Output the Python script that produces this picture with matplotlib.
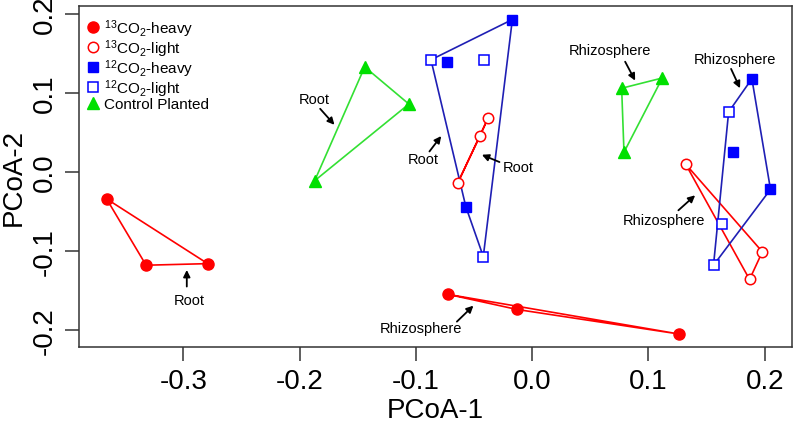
import matplotlib
matplotlib.use("Agg")
import matplotlib.pyplot as plt
from matplotlib.lines import Line2D

plt.rcParams['font.family'] = ['Liberation Sans', 'DejaVu Sans']
plt.rcParams['mathtext.fontset'] = 'custom'
plt.rcParams['mathtext.rm'] = 'Liberation Sans'
plt.rcParams['mathtext.it'] = 'Liberation Sans:italic'
plt.rcParams['mathtext.bf'] = 'Liberation Sans:bold'

# ---------------- data ----------------
# 13CO2-heavy (red filled circles)
c13_heavy_x = [-0.366, -0.332, -0.279, -0.072, -0.013, 0.126]
c13_heavy_y = [-0.034, -0.118, -0.116, -0.155, -0.174, -0.205]
c13_heavy_site = ['Root', 'Root', 'Root', 'Rhizo', 'Rhizo', 'Rhizo']

# 13CO2-light (red open circles)
c13_light_x = [-0.038, -0.045, -0.064, 0.132, 0.198, 0.187]
c13_light_y = [0.068, 0.045, -0.014, 0.010, -0.101, -0.136]
c13_light_site = ['Root', 'Root', 'Root', 'Rhizo', 'Rhizo', 'Rhizo']

# 12CO2-heavy (blue filled squares)
c12_heavy_x = [-0.017, -0.073, -0.057, 0.189, 0.173, 0.205]
c12_heavy_y = [0.193, 0.139, -0.044, 0.118, 0.025, -0.022]
c12_heavy_site = ['Root', 'Root', 'Root', 'Rhizo', 'Rhizo', 'Rhizo']

# 12CO2-light (blue open squares)
c12_light_x = [-0.087, -0.041, -0.042, 0.169, 0.163, 0.156]
c12_light_y = [0.142, 0.142, -0.107, 0.076, -0.066, -0.118]
c12_light_site = ['Root', 'Root', 'Root', 'Rhizo', 'Rhizo', 'Rhizo']

# Control Planted (green triangles)
ctrl_x = [-0.144, -0.187, -0.106, 0.077, 0.112, 0.079]
ctrl_y = [0.133, -0.011, 0.086, 0.106, 0.119, 0.025]
ctrl_site = ['Root', 'Root', 'Root', 'Rhizo', 'Rhizo', 'Rhizo']

legend_labels = [r'$^{13}$CO$_2$-heavy', r'$^{13}$CO$_2$-light',
                 r'$^{12}$CO$_2$-heavy', r'$^{12}$CO$_2$-light',
                 'Control Planted']

# annotations: label, text position, arrow tail, arrow tip
ann_labels = ['Root', 'Root', 'Root', 'Root',
              'Rhizosphere', 'Rhizosphere', 'Rhizosphere', 'Rhizosphere']
ann_text_x = [-0.295, -0.187, -0.0935, -0.0118, 0.067, 0.1745, 0.113, -0.096]
ann_text_y = [-0.162, 0.0926, 0.0159, 0.0063, 0.1548, 0.1431, -0.0611, -0.198]
ann_tail_x = [-0.297, -0.1823, -0.0883, -0.0281, 0.080, 0.1711, 0.1258, -0.0647]
ann_tail_y = [-0.145, 0.080, 0.026, 0.0126, 0.1396, 0.1305, -0.0485, -0.1894]
ann_tip_x = [-0.297, -0.170, -0.0782, -0.0432, 0.0886, 0.1788, 0.1402, -0.0505]
ann_tip_y = [-0.124, 0.0597, 0.0455, 0.0218, 0.1157, 0.106, -0.0295, -0.1692]

RED = '#ff0000'
BLUE = '#0000ff'
BLUE_LINE = '#1f1fb4'
GREEN = '#00e000'
GREEN_LINE = '#33e033'


def hull(pts):
    pts = sorted(set(pts))
    if len(pts) < 3:
        return pts

    def cross(o, a, b):
        return (a[0] - o[0]) * (b[1] - o[1]) - (a[1] - o[1]) * (b[0] - o[0])
    lower, upper = [], []
    for p in pts:
        while len(lower) >= 2 and cross(lower[-2], lower[-1], p) <= 0:
            lower.pop()
        lower.append(p)
    for p in reversed(pts):
        while len(upper) >= 2 and cross(upper[-2], upper[-1], p) <= 0:
            upper.pop()
        upper.append(p)
    return lower[:-1] + upper[:-1]


def select(xs, ys, sites, site):
    return [(x, y) for x, y, s in zip(xs, ys, sites) if s == site]


fig = plt.figure(figsize=(8, 4.27), dpi=100)
ax = fig.add_axes([0.09875, 0.1843, 0.99 - 0.09875, 0.9836 - 0.1843])

# hull polygons
groups = []
for site in ['Root', 'Rhizo']:
    groups.append((select(c13_heavy_x, c13_heavy_y, c13_heavy_site, site), RED))
    groups.append((select(c13_light_x, c13_light_y, c13_light_site, site), RED))
    groups.append((select(c12_heavy_x, c12_heavy_y, c12_heavy_site, site)
                   + select(c12_light_x, c12_light_y, c12_light_site, site), BLUE_LINE))
    groups.append((select(ctrl_x, ctrl_y, ctrl_site, site), GREEN_LINE))

for pts, col in groups:
    h = hull(pts)
    if len(h) >= 2:
        hx = [p[0] for p in h] + [h[0][0]]
        hy = [p[1] for p in h] + [h[0][1]]
        ax.plot(hx, hy, color=col, lw=1.2, zorder=2)

ms = 8
ax.plot(c13_heavy_x, c13_heavy_y, 'o', color=RED, ms=ms, zorder=3)
ax.plot(c13_light_x, c13_light_y, 'o', mfc='white', mec=RED, mew=1.1, ms=ms - 0.5, zorder=3)
ax.plot(c12_heavy_x, c12_heavy_y, 's', color=BLUE, ms=ms - 0.5, zorder=3)
ax.plot(c12_light_x, c12_light_y, 's', mfc='white', mec=BLUE, mew=1.1, ms=ms - 0.5, zorder=3)
ax.plot(ctrl_x, ctrl_y, '^', color=GREEN, ms=ms + 1, zorder=3)

for lab, tx, ty, ax0, ay0, ax1, ay1 in zip(ann_labels, ann_text_x, ann_text_y,
                                            ann_tail_x, ann_tail_y, ann_tip_x, ann_tip_y):
    ax.text(tx, ty, lab, fontsize=10.5, ha='center', va='center', zorder=4)
    ax.annotate('', xy=(ax1, ay1), xytext=(ax0, ay0),
                arrowprops=dict(arrowstyle='-|>', color='black', lw=1.3,
                                mutation_scale=10, shrinkA=0, shrinkB=0), zorder=4)

handles = [
    Line2D([], [], marker='o', ls='none', color=RED, ms=ms),
    Line2D([], [], marker='o', ls='none', mfc='white', mec=RED, mew=1.1, ms=ms - 0.5),
    Line2D([], [], marker='s', ls='none', color=BLUE, ms=ms - 0.5),
    Line2D([], [], marker='s', ls='none', mfc='white', mec=BLUE, mew=1.1, ms=ms - 0.5),
    Line2D([], [], marker='^', ls='none', color=GREEN, ms=ms + 1),
]
ax.legend(handles, legend_labels, loc='upper left', bbox_to_anchor=(-0.004, 0.997),
          frameon=False, fontsize=11, handlelength=0.9, handletextpad=0.25,
          labelspacing=-0.1, borderaxespad=0.35, borderpad=0.3)

ax.set_xlim(-0.3897, 0.2235)
ax.set_ylim(-0.2219, 0.2101)
ax.set_xticks([-0.3, -0.2, -0.1, 0.0, 0.1, 0.2])
ax.set_yticks([-0.2, -0.1, 0.0, 0.1, 0.2])
ax.set_xticklabels(['-0.3', '-0.2', '-0.1', '0.0', '0.1', '0.2'])
ax.set_yticklabels(['-0.2', '-0.1', '0.0', '0.1', '0.2'], rotation=90, va='center')
ax.tick_params(axis='both', labelsize=20, length=10, width=1.1, pad=5, color='#333333')
for sp in ax.spines.values():
    sp.set_linewidth(1.1)
    sp.set_color('#333333')
ax.set_xlabel('PCoA-1', fontsize=20, labelpad=2)
ax.set_ylabel('PCoA-2', fontsize=20, labelpad=4)

fig.savefig('out.png', dpi=100)
